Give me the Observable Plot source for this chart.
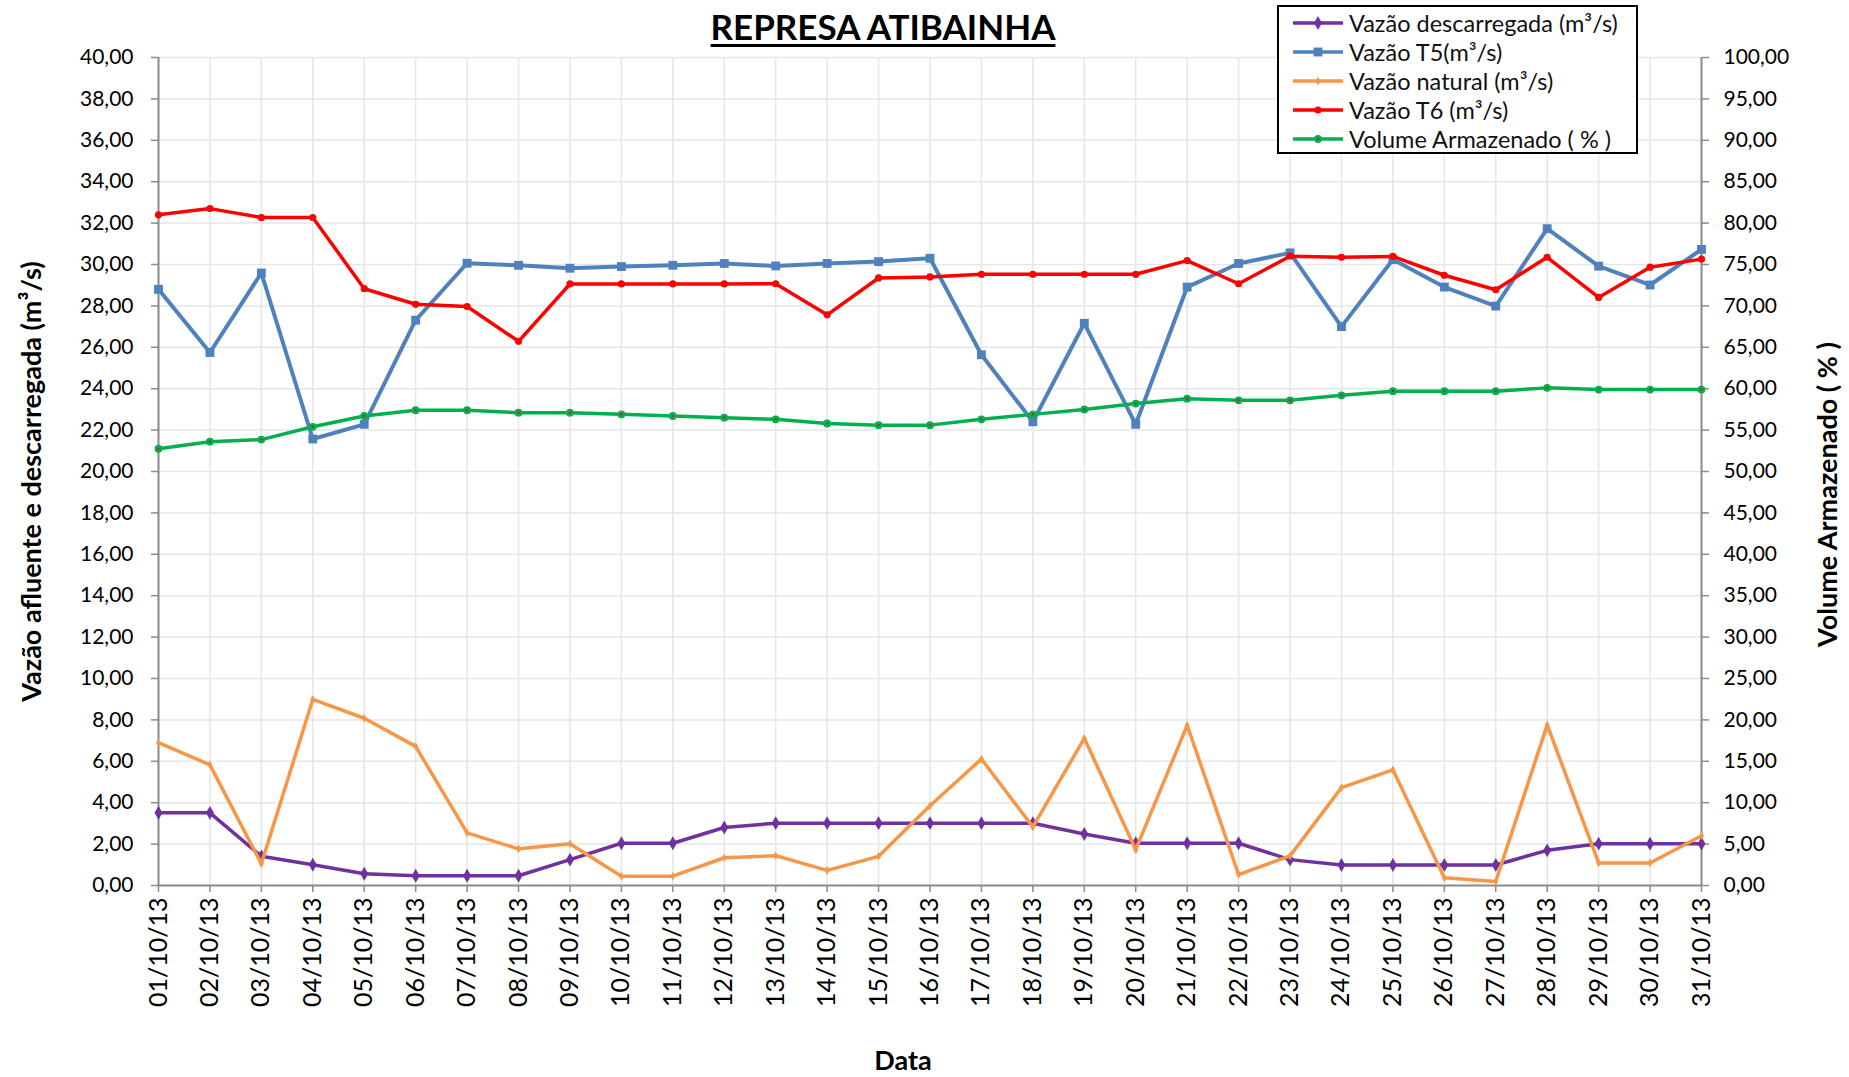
<!DOCTYPE html>
<html>
<head>
<meta charset="utf-8">
<script src="https://cdn.jsdelivr.net/npm/d3@7"></script>
<script src="https://cdn.jsdelivr.net/npm/@observablehq/plot@0.6"></script>
<style>
  html, body { margin: 0; padding: 0; background: white; overflow: hidden; }
  #wrap { position: relative; width: 1849px; height: 1077px; font-family: Lato, sans-serif; overflow: hidden; }
  #chart svg { display: block; max-width: none; }
  #title { position: absolute; left: 0; width: 1766px; top: 5px; text-align: center; font-weight: bold; font-size: 35px; text-decoration: underline; text-underline-offset: 4px; text-decoration-thickness: 3px; color: #000; }
  #legend { position: absolute; left: 1277px; top: 5px; width: 357px; height: 145px; border: 2px solid #000; background: white; box-sizing: content-box; }
  .row { position: absolute; left: 12px; height: 29px; display: flex; align-items: center; font-size: 23.5px; color: #111; white-space: nowrap; }
  .row svg { margin-right: 4px; }
</style>
</head>
<body>
<div id="wrap">
  <div id="chart"></div>
  <div id="title">REPRESA ATIBAINHA</div>
  <div id="legend"></div>
</div>
<script>
const dates = ["01/10/13","02/10/13","03/10/13","04/10/13","05/10/13","06/10/13","07/10/13","08/10/13","09/10/13","10/10/13",
  "11/10/13","12/10/13","13/10/13","14/10/13","15/10/13","16/10/13","17/10/13","18/10/13","19/10/13","20/10/13",
  "21/10/13","22/10/13","23/10/13","24/10/13","25/10/13","26/10/13","27/10/13","28/10/13","29/10/13","30/10/13","31/10/13"];

const vazaoDescarregada = [3.51,3.51,1.41,1.00,0.57,0.47,0.47,0.47,1.25,2.04,2.04,2.80,3.01,3.01,3.01,3.01,3.01,3.01,2.49,2.04,2.04,2.04,1.25,0.99,0.99,0.99,0.99,1.70,2.02,2.02,2.02];
const vazaoT5 = [28.80,25.75,29.59,21.57,22.28,27.31,30.06,29.96,29.82,29.90,29.96,30.05,29.93,30.05,30.14,30.30,25.64,22.40,27.16,22.28,28.91,30.05,30.56,27.00,30.24,28.91,27.99,31.73,29.92,29.01,30.73];
const vazaoNatural = [6.90,5.83,1.05,8.99,8.08,6.72,2.54,1.77,2.02,0.45,0.45,1.34,1.44,0.73,1.41,3.85,6.11,2.83,7.11,1.73,7.74,0.53,1.43,4.73,5.59,0.37,0.19,7.76,1.09,1.09,2.40];
const vazaoT6 = [32.40,32.70,32.27,32.27,28.83,28.08,27.97,26.29,29.06,29.06,29.06,29.06,29.07,27.57,29.35,29.40,29.53,29.53,29.53,29.53,30.19,29.07,30.40,30.35,30.39,29.48,28.78,30.35,28.41,29.87,30.26];
const volumeArmazenado = [52.75,53.6,53.85,55.4,56.7,57.4,57.4,57.1,57.1,56.9,56.7,56.5,56.3,55.8,55.6,55.6,56.3,56.9,57.5,58.2,58.8,58.6,58.6,59.2,59.7,59.7,59.7,60.1,59.9,59.9,59.9];

const leftTicks = [0,2,4,6,8,10,12,14,16,18,20,22,24,26,28,30,32,34,36,38,40];
const rightTicks = [0,5,10,15,20,25,30,35,40,45,50,55,60,65,70,75,80,85,90,95,100];

const ratio = 100 / 40; // right axis / left axis
const fmt = v => v.toFixed(2).replace(".", ",");

const series = [
  {name: "Vazão descarregada (m³/s)", values: vazaoDescarregada, color: "#7030A0", symbol: "diamond", r: 4.2, sw: 3.5, scale: 1},
  {name: "Vazão T5(m³/s)", values: vazaoT5, color: "#4F81BD", symbol: "square", r: 5, sw: 4, scale: 1},
  {name: "Vazão natural (m³/s)", values: vazaoNatural, color: "#F79646", symbol: "diamond", r: 2.6, sw: 3.5, scale: 1},
  {name: "Vazão T6 (m³/s)", values: vazaoT6, color: "#FF0000", symbol: "circle", r: 3.6, sw: 3.5, scale: 1},
  {name: "Volume Armazenado ( % )", values: volumeArmazenado, color: "#00B050", symbol: "circle", r: 3.9, sw: 3.5, scale: 1 / ratio}
];

const marks = [
  Plot.gridX(dates, {stroke: "#e6e6e6", strokeOpacity: 1, strokeWidth: 1.5}),
  Plot.gridY(leftTicks, {stroke: "#e6e6e6", strokeOpacity: 1, strokeWidth: 1.5}),
  Plot.ruleX([dates[0], dates[dates.length - 1]], {stroke: "#8c8c8c", strokeWidth: 2}),
  Plot.ruleY([0], {stroke: "#8c8c8c", strokeWidth: 2}),
  Plot.axisY(leftTicks, {anchor: "left", tickFormat: fmt, tickSize: 7, tickPadding: 18, fontSize: 21, stroke: "#8c8c8c", strokeWidth: 1.5, fill: "#000", label: null}),
  Plot.axisY(rightTicks.map(v => v / ratio), {anchor: "right", tickFormat: v => fmt(v * ratio), tickSize: 7, tickPadding: 15, fontSize: 21, stroke: "#8c8c8c", strokeWidth: 1.5, fill: "#000", label: null}),
  Plot.axisX(dates, {anchor: "bottom", tickRotate: -90, tickSize: 7, tickPadding: 5, fontSize: 25, stroke: "#8c8c8c", strokeWidth: 1.5, fill: "#000", label: null}),
  Plot.text(["Vazão afluente e descarregada (m³/s)"], {frameAnchor: "left", textAnchor: "middle", lineAnchor: "middle", text: d => d, dx: -126, dy: 10, rotate: -90, fontSize: 27, fontWeight: "bold", fill: "#000"}),
  Plot.text(["Volume Armazenado ( % )"], {frameAnchor: "right", textAnchor: "middle", lineAnchor: "middle", text: d => d, dx: 127, dy: 23, rotate: -90, fontSize: 27, fontWeight: "bold", fill: "#000"}),
  Plot.text(["Data"], {frameAnchor: "bottom", textAnchor: "middle", lineAnchor: "middle", text: d => d, dx: -27, dy: 176, fontSize: 27, fontWeight: "bold", fill: "#000"})
];

for (const s of series) {
  const data = s.values.map((v, i) => ({date: dates[i], y: v * s.scale}));
  marks.push(Plot.line(data, {x: "date", y: "y", stroke: s.color, strokeWidth: s.sw, strokeLinejoin: "round"}));
  marks.push(Plot.dot(data, {x: "date", y: "y", symbol: s.symbol, r: s.r, fill: s.color, stroke: "none"}));
  if (s.name.startsWith("Volume")) {
    marks.push(Plot.dot(data, {x: "date", y: "y", r: 1.1, fill: "#FF0000", stroke: "none"}));
  }
}

const chart = Plot.plot({
  width: 1849,
  height: 1077,
  marginLeft: 158,
  marginRight: 148,
  marginTop: 57,
  marginBottom: 192,
  style: {fontFamily: "Lato, sans-serif", background: "white", color: "#000", overflow: "visible", maxWidth: "none"},
  x: {type: "point", domain: dates, padding: 0, round: false},
  y: {domain: [0, 40]},
  marks
});
document.getElementById("chart").appendChild(chart);

// legend
const legend = d3.select("#legend");
const rowTops = [1, 30, 59, 88, 117];
series.forEach((s, i) => {
  const row = legend.append("div").attr("class", "row").style("top", rowTops[i] + "px");
  const svg = row.append("svg").attr("width", 54).attr("height", 14);
  svg.append("line").attr("x1", 2).attr("x2", 52).attr("y1", 7).attr("y2", 7).attr("stroke", s.color).attr("stroke-width", 3.5);
  const symMap = {circle: d3.symbolCircle, square: d3.symbolSquare, diamond: d3.symbolDiamond};
  svg.append("path").attr("transform", "translate(27,7)").attr("d", d3.symbol(symMap[s.symbol], Math.PI * s.r * s.r)()).attr("fill", s.color);
  if (s.name.startsWith("Volume")) svg.append("circle").attr("cx", 27).attr("cy", 7).attr("r", 1.1).attr("fill", "#FF0000");
  row.append("span").text(s.name);
});
</script>
</body>
</html>
